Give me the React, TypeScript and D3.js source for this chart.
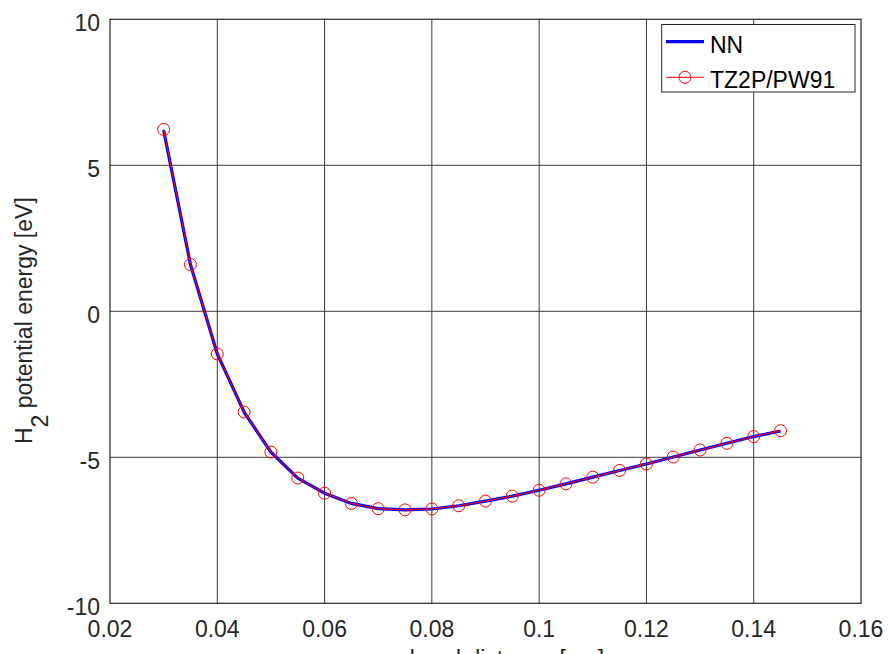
import React from "react";
import * as d3 from "d3";

const distances = [0.03, 0.035, 0.04, 0.045, 0.05, 0.055, 0.06, 0.065, 0.07, 0.075, 0.08, 0.085, 0.09, 0.095, 0.1, 0.105, 0.11, 0.115, 0.12, 0.125, 0.13, 0.135, 0.14, 0.145];
const dftEnergy = [6.23, 1.6, -1.46, -3.45, -4.82, -5.71, -6.23, -6.58, -6.76, -6.8, -6.77, -6.66, -6.5, -6.33, -6.13, -5.91, -5.68, -5.45, -5.23, -4.99, -4.75, -4.52, -4.29, -4.09];
const nnEnergy = [6.2, 1.6, -1.46, -3.45, -4.82, -5.71, -6.23, -6.58, -6.76, -6.8, -6.77, -6.66, -6.5, -6.33, -6.13, -5.91, -5.68, -5.45, -5.23, -4.99, -4.75, -4.52, -4.29, -4.1];
const xTicks = [0.02, 0.04, 0.06, 0.08, 0.1, 0.12, 0.14, 0.16];
const yTicks = [10, 5, 0, -5, -10];
const seriesNames = ["NN", "TZ2P/PW91"];

const W = 889;
const H = 654;
const left = 110;
const right = 861;
const top = 19.3;
const bottom = 603.3;
const FONT = "'Liberation Sans', Arial, Helvetica, sans-serif";
const FS = 23;

export default function App() {
  const x = d3.scaleLinear().domain([0.02, 0.16]).range([left, right]);
  const y = d3.scaleLinear().domain([-10, 10]).range([bottom, top]);
  const nnLine = d3
    .line<number>()
    .x((_, i) => x(distances[i]))
    .y((d) => y(d))(nnEnergy) as string;
  const dftLine = d3
    .line<number>()
    .x((_, i) => x(distances[i]))
    .y((d) => y(d))(dftEnergy) as string;
  const fmtX = (v: number) => String(+v.toFixed(2));
  const grid = "#3a3a3a";
  const axis = "#262626";

  return (
    <svg
      width={W}
      height={H}
      style={{ position: "absolute", left: 0, top: 0, background: "#fff" }}
      fontFamily={FONT}
    >
      <rect x={0} y={0} width={W} height={H} fill="#fff" />
      {xTicks.slice(1, -1).map((t) => (
        <line key={"gx" + t} x1={x(t)} x2={x(t)} y1={top} y2={bottom} stroke={grid} strokeWidth={1} />
      ))}
      {yTicks.slice(1, -1).map((t) => (
        <line key={"gy" + t} x1={left} x2={right} y1={y(t)} y2={y(t)} stroke={grid} strokeWidth={1} />
      ))}
      <rect x={left} y={top} width={right - left} height={bottom - top} fill="none" stroke={axis} strokeWidth={1.2} />
      {xTicks.map((t) => (
        <text key={"tx" + t} x={x(t)} y={bottom + 34} textAnchor="middle" fontSize={FS} fill={axis}>
          {fmtX(t)}
        </text>
      ))}
      {yTicks.map((t) => (
        <text key={"ty" + t} x={100} y={y(t) + 12} textAnchor="end" fontSize={FS} fill={axis}>
          {String(t)}
        </text>
      ))}
      <text x={507} y={667} textAnchor="middle" fontSize={FS} fill={axis}>
        bond distance [nm]
      </text>
      <text transform="translate(32,444) rotate(-90)" fontSize={FS} fill={axis}>
        <tspan>H</tspan>
        <tspan dy={16}>2</tspan>
        <tspan dy={-16}> potential energy [eV]</tspan>
      </text>
      <path d={nnLine} fill="none" stroke="#0000ff" strokeWidth={3.2} strokeLinejoin="round" />
      <path d={dftLine} fill="none" stroke="#ff0000" strokeWidth={1} />
      {dftEnergy.map((v, i) => (
        <circle key={"c" + i} cx={x(distances[i])} cy={y(v)} r={6} fill="none" stroke="#ff0000" strokeWidth={1} />
      ))}
      <rect x={661.7} y={24.5} width={193.3} height={67.5} fill="#fff" stroke={axis} strokeWidth={1} />
      <line x1={666} x2={704} y1={41.7} y2={41.7} stroke="#0000ff" strokeWidth={3.2} />
      <text x={710} y={53.3} fontSize={FS} fill="#000">
        {seriesNames[0]}
      </text>
      <line x1={666} x2={704} y1={77.3} y2={77.3} stroke="#ff0000" strokeWidth={1} />
      <circle cx={685} cy={77.3} r={6} fill="none" stroke="#ff0000" strokeWidth={1} />
      <text x={710} y={88.3} fontSize={FS} fill="#000">
        {seriesNames[1]}
      </text>
    </svg>
  );
}
